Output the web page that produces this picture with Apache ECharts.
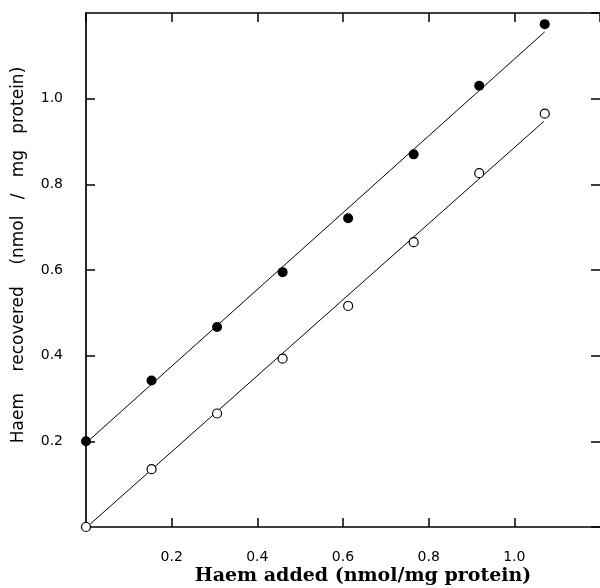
<!DOCTYPE html>
<html>
<head>
<meta charset="utf-8">
<script src="https://cdn.jsdelivr.net/npm/echarts@6/dist/echarts.min.js"></script>
<style>html,body{margin:0;padding:0;background:#fff;}#c{width:600px;height:588px;}</style>
</head>
<body>
<div id="c"></div>
<script>
// Data
const haemAdded = [0, 0.153, 0.306, 0.459, 0.612, 0.765, 0.918, 1.071];
const recoveredFilled = [0.200, 0.342, 0.467, 0.595, 0.721, 0.870, 1.030, 1.174];
const recoveredOpen = [0.000, 0.135, 0.265, 0.393, 0.516, 0.665, 0.826, 0.965];
const fitFilledX = [0.01, 1.071];
const fitFilledY = [0.205, 1.156];
const fitOpenX = [0.01, 1.069];
const fitOpenY = [0.007, 0.947];
const tickValues = [0.2, 0.4, 0.6, 0.8, 1.0];
const xTitle = 'Haem added (nmol/mg protein)';
const yTitle = 'Haem    recovered    (nmol   /   mg   protein)';

const zip = (xs, ys) => xs.map((x, i) => [x, ys[i]]);
const fmt = v => tickValues.some(t => Math.abs(t - v) < 1e-6) ? v.toFixed(1) : '';

function makeAxis(position, showLabel, showLine) {
  return {
    type: 'value', min: 0, max: 1.2, interval: 0.2,
    position: position,
    splitLine: {show: false},
    axisTick: {show: true, inside: true, length: 9, lineStyle: {color: '#000', width: 1.5}},
    axisLine: {show: showLine, onZero: false, lineStyle: {color: '#000', width: 1.7}},
    axisLabel: {show: showLabel, inside: false, margin: 23, color: '#000',
                fontFamily: 'DejaVu Sans', fontSize: 14, formatter: fmt,
                showMinLabel: false, showMaxLabel: false}
  };
}

const chart = echarts.init(document.getElementById('c'), null, {renderer: 'canvas'});
chart.setOption({
  animation: false,
  backgroundColor: '#fff',
  grid: {left: 86, top: 13, right: 0, bottom: 61, containLabel: false},
  xAxis: [makeAxis('bottom', true, true), makeAxis('top', false, true)],
  yAxis: [makeAxis('left', true, true), makeAxis('right', false, false)],
  series: [
    {type: 'line', data: zip(fitFilledX, fitFilledY), showSymbol: false, symbol: 'none',
     lineStyle: {color: '#000', width: 1}, silent: true, z: 2},
    {type: 'line', data: zip(fitOpenX, fitOpenY), showSymbol: false, symbol: 'none',
     lineStyle: {color: '#000', width: 1}, silent: true, z: 2},
    {type: 'scatter', data: zip(haemAdded, recoveredFilled), symbol: 'circle', symbolSize: 10,
     itemStyle: {color: '#000', opacity: 1}, clip: false, z: 3},
    {type: 'scatter', data: zip(haemAdded, recoveredOpen), symbol: 'circle', symbolSize: 9,
     itemStyle: {color: '#fff', borderColor: '#000', borderWidth: 1.2, opacity: 1}, clip: false, z: 4}
  ],
  graphic: [
    {type: 'text', x: 363, y: 576, style: {text: xTitle, fill: '#000', font: 'bold 19px "DejaVu Serif"', align: 'center', verticalAlign: 'middle'}},
    {type: 'text', x: 19, y: 255, rotation: Math.PI / 2, style: {text: yTitle, fill: '#000', font: '17px "DejaVu Sans"', align: 'center', verticalAlign: 'middle'}}
  ]
});
</script>
</body>
</html>
